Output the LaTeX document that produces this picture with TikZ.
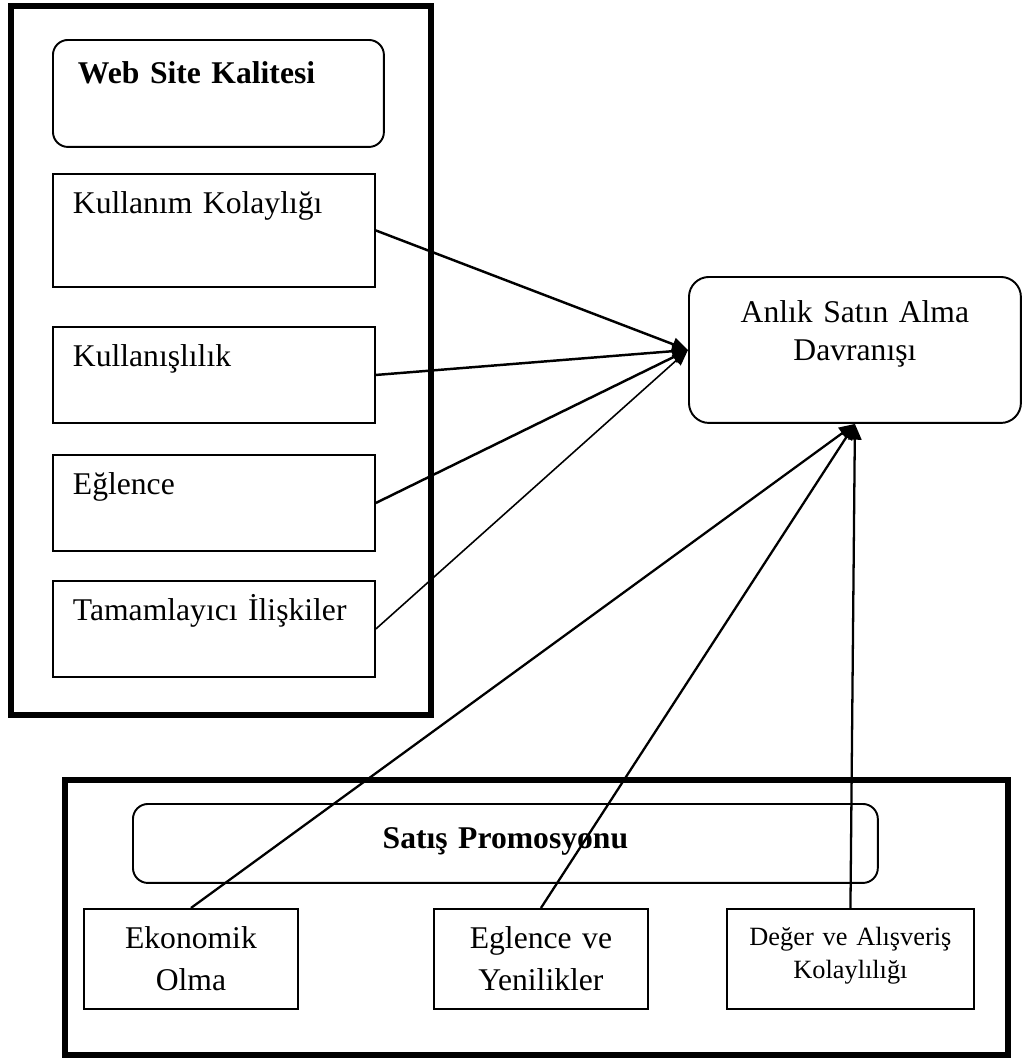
\documentclass[tikz,border=0pt]{standalone}
\usepackage{fontspec}
\setmainfont{Liberation Serif}
\usetikzlibrary{arrows.meta}

\begin{document}
\begin{tikzpicture}[x=0.02cm, y=-0.02cm, >={Triangle[length=9pt,width=7.5pt]},
    every node/.style={font=\fontsize{18}{21.5}\selectfont, inner sep=0pt, line width=1.1pt},
    title/.style={draw, anchor=north west, rounded corners=0.3cm, font=\fontsize{18}{21.5}\selectfont\bfseries},
    inbox/.style={draw, anchor=north west, text width=5.64cm, inner xsep=0.4cm, align=left, text height=0.8cm, text depth=1.12cm},
    outbox/.style={draw, anchor=north west, text width=4.28cm, align=center, text height=0.8cm, text depth=1.2cm, font=\fontsize{18}{23.8}\selectfont}]
          \useasboundingbox (0,0) rectangle (1021,1058);
          \draw [line width=3.4pt] (11,6) rectangle (431,715);
          \draw [line width=3.4pt] (65,780) rectangle (1008,1055);
          \node [title, text width=5.62cm, inner xsep=0.5cm, align=left, text height=0.88cm, text depth=1.26cm] (WS) at (52,39) {Web Site Kalitesi};
          \node [inbox, text depth=1.46cm] (K1) at (52,173) {Kullanım Kolaylığı};
          \node [inbox] (K2) at (52,326) {Kullanışlılık};
          \node [inbox] (K3) at (52,454) {Eğlence};
          \node [inbox] (K4) at (52,580) {Tamamlayıcı İlişkiler};
          \node [draw, anchor=north west, rounded corners=0.4cm, text width=6.64cm, align=center, text height=0.92cm, text depth=2.0cm] (AS) at (688,276) {Anlık Satın Alma\\Davranışı};
          \node [title, text width=14.9cm, align=center, text height=0.9cm, text depth=0.68cm] (SP) at (132,803) {Satış Promosyonu};
          \node [outbox] (P1) at (83,908) {Ekonomik\\Olma};
          \node [outbox] (P2) at (433,908) {Eglence ve\\Yenilikler};
          \node [outbox, text width=4.94cm, text height=0.74cm, text depth=1.26cm, font=\fontsize{15}{18.7}\selectfont] (P3) at (726,908) {Değer ve Alışveriş\\Kolaylılığı};
          \draw [->, line width=1.4pt] (K1.east) -- (AS.west);
          \draw [->, line width=1.4pt] (K2.east) -- (AS.west);
          \draw [->, line width=1.4pt] (K3.east) -- (AS.west);
          \draw [->, line width=0.9pt] (K4.east) -- (AS.west);
          \draw [->, line width=1.3pt] (P1.north) -- (AS.south);
          \draw [->, line width=1.3pt] (P2.north) -- (AS.south);
          \draw [->, line width=1.3pt] (P3.north) -- (AS.south);
\end{tikzpicture}
\end{document}
